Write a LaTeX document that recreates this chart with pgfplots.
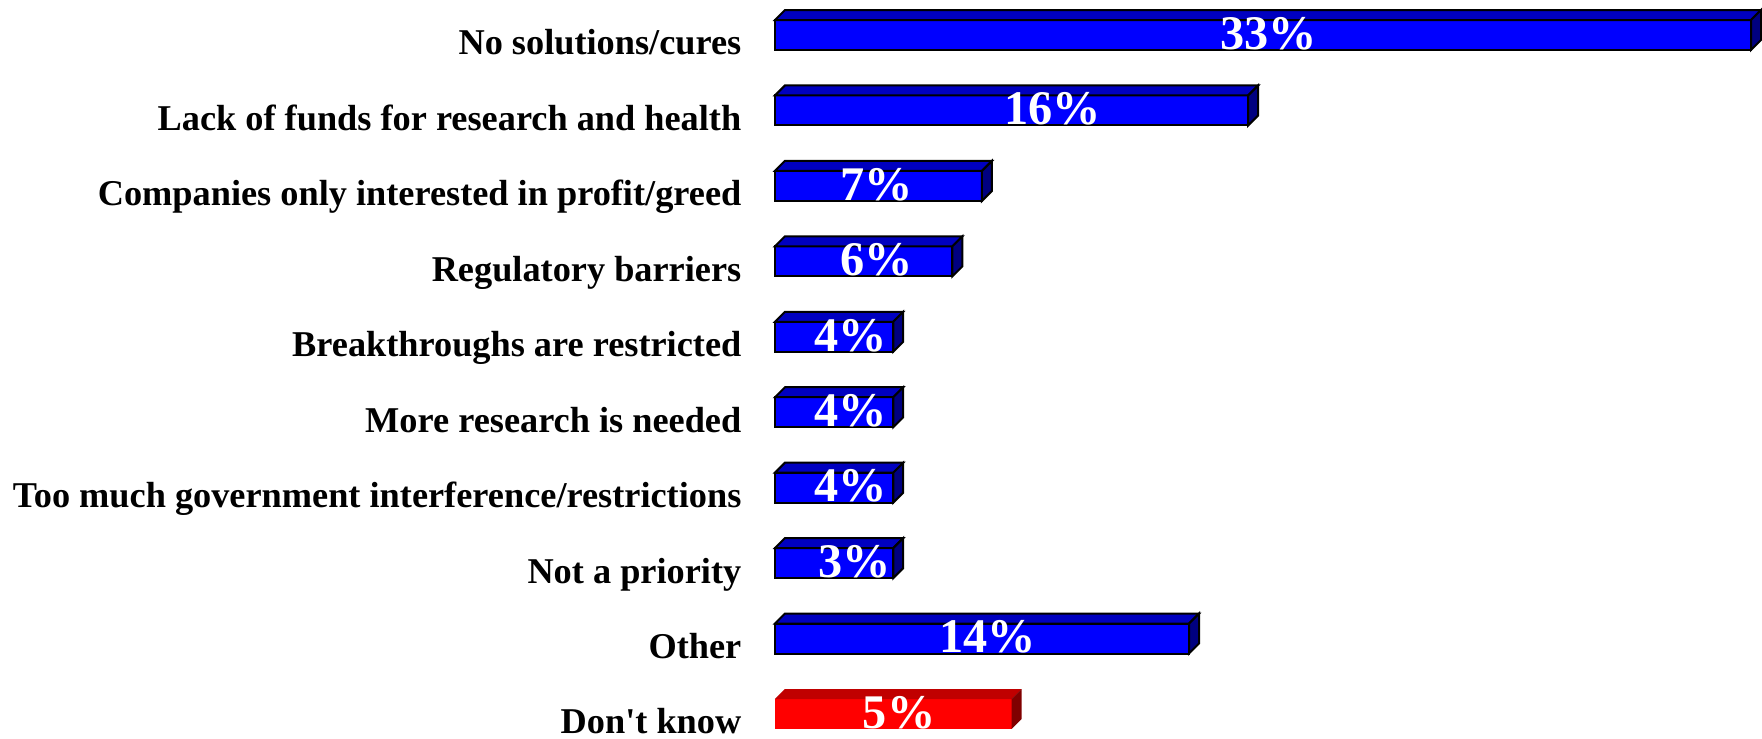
\documentclass[border=0pt]{standalone}
\usepackage{pgfplots}
\usepackage{pgfplotstable}
\pgfplotsset{compat=1.18}
\usepackage{fontspec}
\setmainfont{Liberation Serif}[Ligatures=TeXOff]

\definecolor{bluefront}{RGB}{0,0,255}
\definecolor{bluetop}{RGB}{0,0,192}
\definecolor{blueside}{RGB}{0,0,128}
\definecolor{redfront}{RGB}{255,0,0}
\definecolor{redtop}{RGB}{192,0,0}
\definecolor{redside}{RGB}{128,0,0}

% len = drawn bar length, lab = printed value, off = label centre minus bar end
\pgfplotstableread{
len y lab off
33 0 33 -16.3
16 1 16 -6.6
7  2 7  -3.55
6  3 6  -2.55
4  4 4  -1.45
4  5 4  -1.45
4  6 4  -1.45
4  7 3  -1.3
14 8 14 -6.8
}\bluedata
\pgfplotstableread{
len y lab off
8 9 5 -3.8
}\reddata

% top and side faces of a box, drawn from the bar end
\pgfdeclareplotmark{blue3d}{%
  \pgfmathsetlengthmacro{\bl}{\barlen*8.88pt}%
  \pgfsetlinewidth{0.6pt}\pgfsetstrokecolor{black}\pgfsetfillcolor{bluetop}%
  \pgfpathmoveto{\pgfpoint{-\bl}{4.5pt}}%
  \pgfpathlineto{\pgfpoint{0pt}{4.5pt}}%
  \pgfpathlineto{\pgfpoint{3pt}{7.5pt}}%
  \pgfpathlineto{\pgfpoint{-\bl+3pt}{7.5pt}}%
  \pgfpathclose\pgfusepath{fill,stroke}%
  \pgfsetfillcolor{blueside}%
  \pgfpathmoveto{\pgfpoint{0pt}{4.5pt}}%
  \pgfpathlineto{\pgfpoint{3pt}{7.5pt}}%
  \pgfpathlineto{\pgfpoint{3pt}{-1.5pt}}%
  \pgfpathlineto{\pgfpoint{0pt}{-4.5pt}}%
  \pgfpathclose\pgfusepath{fill,stroke}%
}
\pgfdeclareplotmark{red3d}{%
  \pgfmathsetlengthmacro{\bl}{\barlen*8.88pt}%
  \pgfsetfillcolor{redtop}%
  \pgfpathmoveto{\pgfpoint{-\bl}{4.5pt}}%
  \pgfpathlineto{\pgfpoint{0pt}{4.5pt}}%
  \pgfpathlineto{\pgfpoint{3pt}{7.5pt}}%
  \pgfpathlineto{\pgfpoint{-\bl+3pt}{7.5pt}}%
  \pgfpathclose\pgfusepath{fill}%
  \pgfsetfillcolor{redside}%
  \pgfpathmoveto{\pgfpoint{0pt}{4.5pt}}%
  \pgfpathlineto{\pgfpoint{3pt}{7.5pt}}%
  \pgfpathlineto{\pgfpoint{3pt}{-1.5pt}}%
  \pgfpathlineto{\pgfpoint{0pt}{-4.5pt}}%
  \pgfpathclose\pgfusepath{fill}%
}

\pgfplotsset{
  faces/.style={
    scatter, only marks, point meta=x,
    scatter/@pre marker code/.code={\pgfscope},
    scatter/@post marker code/.code={\endpgfscope},
    visualization depends on={\thisrow{len} \as \barlen},
  },
  front/.style={
    xbar, bar width=9pt, bar shift=0pt,
    point meta=explicit symbolic,
    nodes near coords={\pgfplotspointmeta\%},
    visualization depends on={\thisrow{off} \as \laboff},
    every node near coord/.append style={
      overlay, anchor=base, inner sep=0pt, text=white,
      font=\bfseries\fontsize{14.5}{15}\selectfont,
      xshift=\laboff*8.88pt, yshift=-4.3pt},
  },
}

\begin{document}
\begin{tikzpicture}
\begin{axis}[
    x=8.88pt, y=22.65pt,
    y dir=reverse,
    xmin=0, xmax=33.28,
    ymin=-0.464, ymax=9.325,
    clip=false,
    axis line style={draw=none},
    major tick length=0pt,
    xtick=\empty,
    ytick={0,...,9},
    yticklabels={No solutions/cures, Lack of funds for research and health,
      Companies only interested in profit/greed, Regulatory barriers,
      Breakthroughs are restricted, More research is needed,
      Too much government interference/restrictions, Not a priority,
      Other, Don't know},
    yticklabel style={anchor=base east, inner xsep=3.9pt, inner ysep=0pt,
      xshift=-6pt, yshift=-6pt,
      font=\bfseries\fontsize{10.9}{12}\selectfont},
]
\addplot[faces, mark=blue3d] table[x=len, y=y] {\bluedata};
\addplot[faces, mark=red3d] table[x=len, y=y] {\reddata};
\addplot[front, draw=black, line width=0.6pt, fill=bluefront] table[x=len, y=y, meta=lab] {\bluedata};
\addplot[front, draw=none, fill=redfront] table[x=len, y=y, meta=lab] {\reddata};
\end{axis}
\end{tikzpicture}
\end{document}
